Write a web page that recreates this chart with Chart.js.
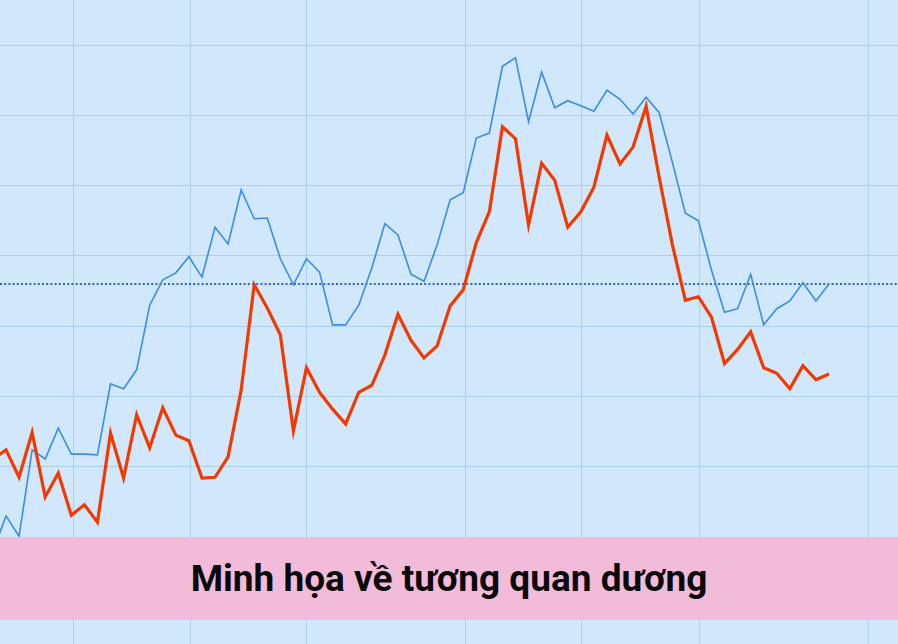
<!DOCTYPE html>
<html lang="vi">
<head>
<meta charset="utf-8">
<title>Minh họa về tương quan dương</title>
<script src="https://cdn.jsdelivr.net/npm/chart.js@4.4.1/dist/chart.umd.min.js"></script>
<style>
  html, body { margin: 0; padding: 0; background: #d0e7fc; }
  .wrap { position: relative; width: 898px; height: 644px; overflow: hidden; }
  .banner {
    position: absolute; left: 0; top: 537px; width: 898px; height: 83px;
    background: #f2bbd9;
    display: flex; align-items: center; justify-content: center;
    font-family: Roboto, "Noto Sans", sans-serif; font-weight: 700; font-size: 37px;
    color: #0a0a0a;
  }
</style>
</head>
<body>
<div class="wrap">
  <canvas id="corrChart" width="898" height="644"></canvas>
  <div class="banner">Minh họa về tương quan dương</div>
</div>
<script>
// phien giao dich (chi so), diem -1 nam ngoai mep trai
const sessions = [-1, 0, 1, 2, 3, 4, 5, 6, 7, 8, 9, 10, 11, 12, 13, 14, 15, 16, 17, 18, 19,
  20, 21, 22, 23, 24, 25, 26, 27, 28, 29, 30, 31, 32, 33, 34, 35, 36, 37, 38, 39,
  40, 41, 42, 43, 44, 45, 46, 47, 48, 49, 50, 51, 52, 53, 54, 55, 56, 57, 58, 59,
  60, 61, 62, 63];

// duong mau xanh
const blueSeries = [-2.0, 3.0, 0.1, 12.4, 11.1, 15.5, 11.8, 11.8, 11.7, 21.8, 21.1, 23.8,
  33.0, 36.6, 37.6, 39.9, 37.0, 44.1, 41.7, 49.4, 45.3, 45.4, 39.6, 35.9, 39.6, 37.7,
  30.2, 30.2, 33.0, 38.3, 44.6, 43.0, 37.4, 36.4, 41.6, 48.0, 49.0, 56.8, 57.5, 67.0,
  68.2, 59.1, 66.2, 61.1, 62.1, 61.4, 60.6, 63.6, 62.3, 60.2, 62.6, 60.4, 53.4, 46.1,
  45.0, 38.0, 32.0, 32.5, 37.4, 30.2, 32.5, 33.6, 36.2, 33.6, 36.0];

// duong mau do
const redSeries = [11.1, 12.4, 8.5, 14.9, 5.7, 9.1, 3.1, 4.6, 2.1, 14.8, 8.4, 17.4,
  12.7, 18.4, 14.5, 13.7, 8.4, 8.5, 11.4, 20.9, 35.9, 32.6, 28.8, 15.1, 24.1, 20.6,
  18.2, 16.1, 20.6, 21.6, 25.9, 31.7, 28.0, 25.5, 27.2, 32.9, 35.2, 41.9, 46.3, 58.4,
  56.7, 44.4, 53.2, 50.8, 44.1, 46.3, 49.8, 57.2, 53.1, 55.5, 61.3, 51.2, 41.7, 33.7,
  34.2, 31.3, 24.7, 26.7, 29.2, 24.1, 23.3, 21.1, 24.4, 22.4, 23.2];

// muc tham chieu (duong cham)
const refLevel = 36;

// vi tri luoi
const xGridTicks = [5.13, 14.09, 23.04, 35.14, 44.09, 53.05, 66.06];
const yGridTicks = [-10, 0, 10, 20, 30, 40, 50, 60, 70];

const xMin = -0.46, xMax = 68.28;
const yMin = -15.23, yMax = 76.44;

const toPoints = (arr) => arr.map((v, i) => ({ x: sessions[i], y: v }));

const ctx = document.getElementById('corrChart').getContext('2d');
const chart = new Chart(ctx, {
  type: 'line',
  data: {
    datasets: [
      {
        label: 'Mức tham chiếu',
        data: [{ x: xMin, y: refLevel }, { x: xMax, y: refLevel }],
        borderColor: '#2a66c4',
        borderWidth: 2,
        borderDash: [2, 2.2],
        pointRadius: 0,
        order: 3
      },
      {
        label: 'Xanh',
        data: toPoints(blueSeries),
        borderColor: '#3a8de3',
        borderWidth: 1.6,
        pointRadius: 0,
        tension: 0,
        order: 2
      },
      {
        label: 'Đỏ',
        data: toPoints(redSeries),
        borderColor: '#f23a00',
        borderWidth: 3.2,
        pointRadius: 0,
        tension: 0,
        borderJoinStyle: 'miter',
        order: 1
      }
    ]
  },
  options: {
    responsive: false,
    animation: false,
    events: [],
    layout: { padding: 0 },
    plugins: {
      legend: { display: false },
      tooltip: { enabled: false }
    },
    scales: {
      x: {
        type: 'linear',
        min: xMin,
        max: xMax,
        afterBuildTicks: (scale) => { scale.ticks = xGridTicks.map(v => ({ value: v })); },
        ticks: { display: false },
        border: { display: false },
        grid: { color: '#a9cff1', lineWidth: 1, drawTicks: false }
      },
      y: {
        type: 'linear',
        min: yMin,
        max: yMax,
        afterBuildTicks: (scale) => { scale.ticks = yGridTicks.map(v => ({ value: v })); },
        ticks: { display: false },
        border: { display: false },
        grid: { color: '#a9cff1', lineWidth: 1, drawTicks: false }
      }
    }
  }
});
</script>
</body>
</html>
